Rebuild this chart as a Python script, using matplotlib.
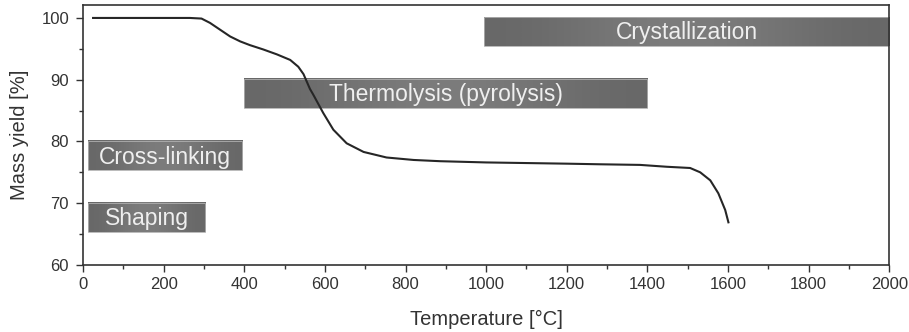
import matplotlib.pyplot as plt
import numpy as np
from matplotlib.ticker import MultipleLocator
from matplotlib.colors import LinearSegmentedColormap

plt.rcParams['font.family'] = ['Liberation Sans', 'DejaVu Sans']

# TGA curve
temperature = [25, 100, 200, 265, 294, 315, 340, 365, 390, 414, 447, 481, 514,
               534, 547, 563, 571, 596, 621, 654, 696, 753, 820, 886, 1000,
               1100, 1200, 1283, 1382, 1448, 1506, 1531, 1556, 1576, 1593, 1601]
mass_yield = [100.0, 100.0, 100.0, 100.0, 99.9, 99.2, 98.1, 97.0, 96.2, 95.6,
              94.9, 94.1, 93.2, 92.1, 90.9, 88.5, 87.6, 84.6, 81.9, 79.7,
              78.3, 77.4, 77.0, 76.8, 76.6, 76.5, 76.4, 76.3, 76.2, 75.9,
              75.7, 75.0, 73.7, 71.6, 68.9, 66.9]

# process stages: label, T start, T end, y bottom, y top
stage_labels = ["Crystallization", "Thermolysis (pyrolysis)", "Cross-linking", "Shaping"]
stage_start = [995, 400, 12, 12]
stage_end = [2000, 1400, 395, 303]
stage_bottom = [95.5, 85.4, 75.3, 65.3]
stage_top = [100.1, 90.1, 80.0, 70.0]

fig = plt.figure(figsize=(9.09, 3.32), dpi=100)
ax = fig.add_axes([0.0913, 0.202, 0.887, 0.783])

bar_cmap = LinearSegmentedColormap.from_list('bar', ['#686868', '#7f7f7f'])
grad = np.array([[0.0, 0.6, 1.0, 0.6, 0.0]])
for lab, x0, x1, y0, y1 in zip(stage_labels, stage_start, stage_end, stage_bottom, stage_top):
    # solid base so no gap shows under the gradient
    ax.add_patch(plt.Rectangle((x0, y0), x1 - x0, y1 - y0, facecolor='#6c6c6c',
                               edgecolor='none', zorder=0.9))
    ax.imshow(grad, extent=(x0, x1, y0, y1), cmap=bar_cmap, vmin=0, vmax=1,
              aspect='auto', interpolation='bicubic', zorder=1)
    ax.add_patch(plt.Rectangle((x0, y0), x1 - x0, y1 - y0, fill=False,
                               edgecolor='#b0b0b0', linewidth=0.6, zorder=2))
    ax.text((x0 + x1) / 2, (y0 + y1) / 2 - 0.2, lab, ha='center', va='center',
            fontsize=16.5, color='#efefef', zorder=3)

ax.plot(temperature, mass_yield, color='#262626', linewidth=1.5, zorder=4,
        solid_joinstyle='round')

ax.set_xlim(0, 2000)
ax.set_ylim(60, 102.1)
ax.xaxis.set_major_locator(MultipleLocator(200))
ax.xaxis.set_minor_locator(MultipleLocator(100))
ax.yaxis.set_major_locator(MultipleLocator(10))
ax.yaxis.set_minor_locator(MultipleLocator(5))
ax.tick_params(which='both', direction='out', colors='#333333', labelsize=12)
ax.tick_params(which='major', length=5, width=1)
ax.tick_params(which='minor', length=3, width=1)
ax.tick_params(axis='y', pad=5)
for s in ax.spines.values():
    s.set_color('#333333')
    s.set_linewidth(1.2)

ax.set_xlabel("Temperature [°C]", fontsize=14.5, color='#333333', labelpad=13)
ax.set_ylabel("Mass yield [%]", fontsize=14.5, color='#333333', labelpad=9)

plt.savefig("out.png", dpi=100)
